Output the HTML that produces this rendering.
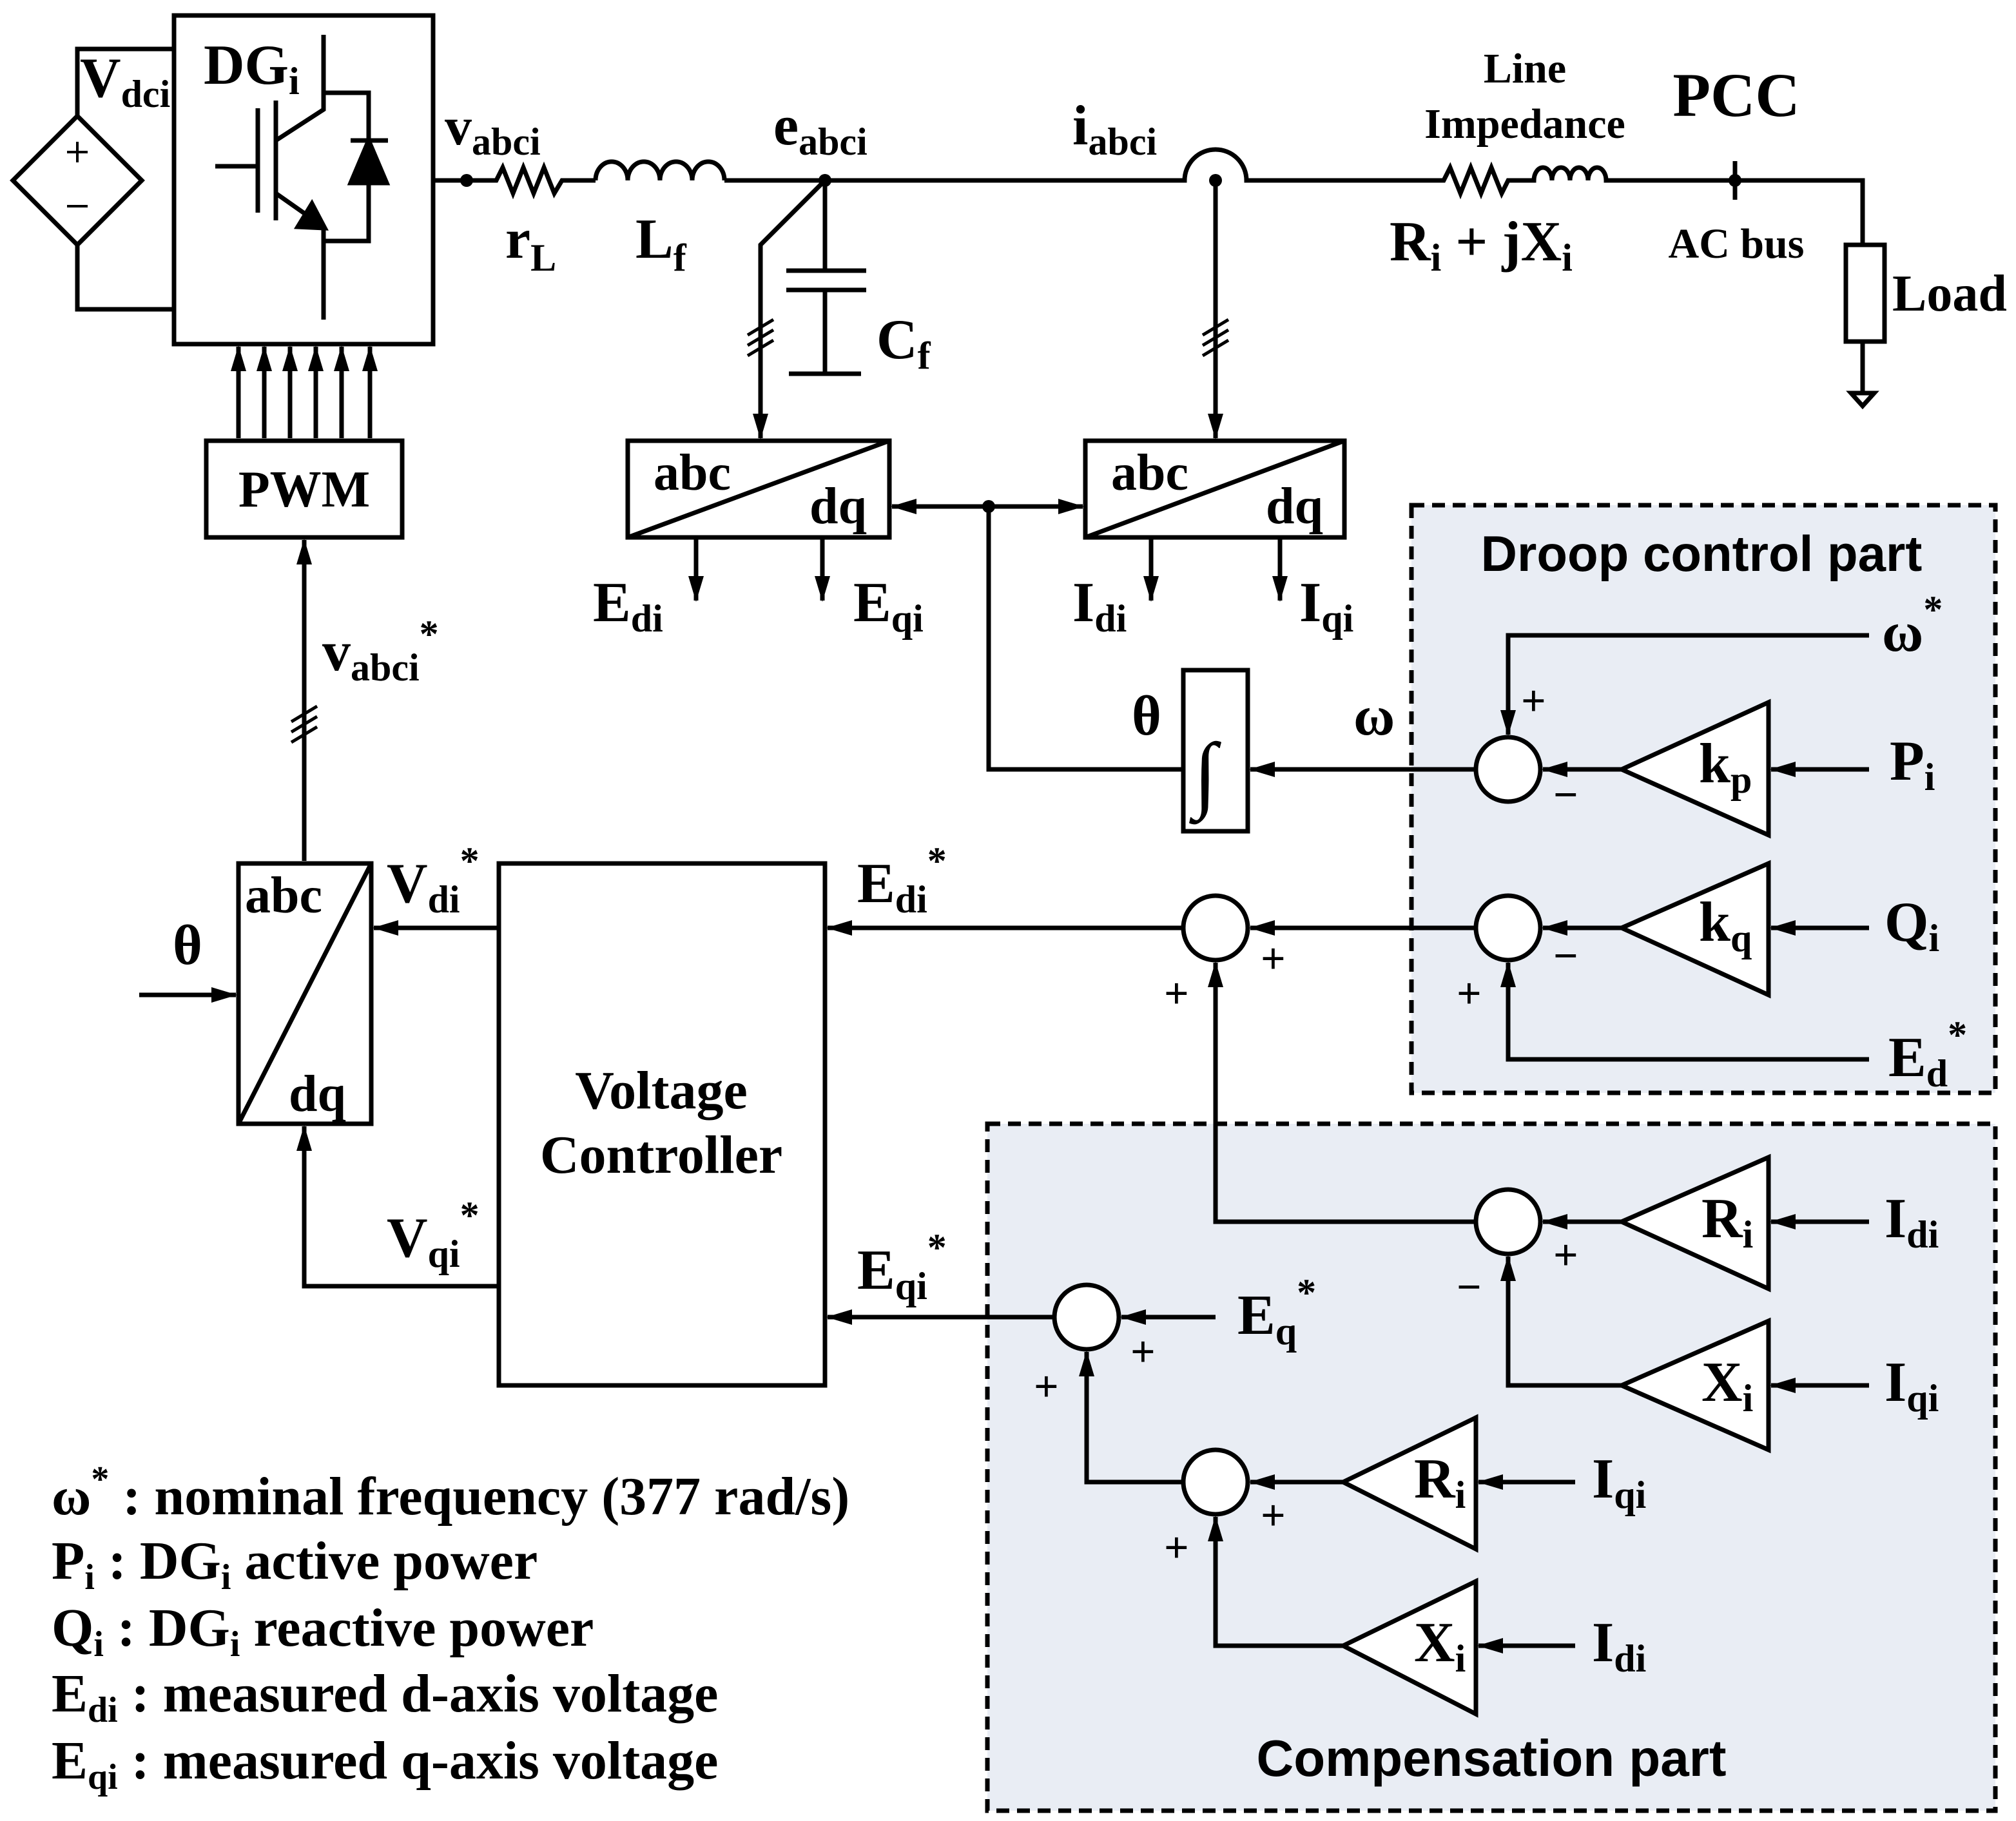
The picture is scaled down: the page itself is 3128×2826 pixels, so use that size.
<!DOCTYPE html>
<html><head><meta charset="utf-8"><style>
html,body{margin:0;padding:0;background:#fff}
svg{display:block}
text{font-family:"Liberation Serif",serif;font-weight:bold;fill:#000}
.s{font-family:"Liberation Sans",sans-serif}
</style></head><body>
<svg width="3128" height="2826" viewBox="0 0 1564 1413" xmlns="http://www.w3.org/2000/svg">
<defs>
<marker id="ar" viewBox="0 0 20 12" refX="19" refY="6" markerWidth="20" markerHeight="12" orient="auto-start-reverse" markerUnits="userSpaceOnUse"><path d="M0,0 L20,6 L0,12 z" fill="#000"/></marker>
</defs>
<g fill="none" stroke="#000" stroke-width="3.5">
<rect x="1095" y="392" width="453" height="456" fill="#e9edf4" stroke-dasharray="10,6"/>
<rect x="766" y="872" width="782" height="533" fill="#e9edf4" stroke-dasharray="10,6"/>
<!-- source -->
<path d="M60,90 L110,140 L60,190 L10,140 Z"/>
<path d="M60,90 V38 H135 M60,190 V240 H135"/>
<path d="M52,118 H68 M60,110 V126 M52,160 H68" stroke-width="2"/>
<!-- DG box -->
<rect x="135" y="12" width="201" height="255"/>
<path d="M167,129 H200 M200,84 V165 M214,78 V171 M214,109 L251,85 V27 M214,150 L251,176 V248 M251,72 H286 V187 H251"/>
<path d="M272,109 H301"/>
<path d="M286,109 L272,142 L300,142 Z" fill="#000"/>
<path d="M252,177 L231,176 L242,158 Z" fill="#000"/>
<!-- PWM arrows -->
<path d="M185,340 V269" marker-end="url(#ar)"/>
<path d="M205,340 V269" marker-end="url(#ar)"/>
<path d="M225,340 V269" marker-end="url(#ar)"/>
<path d="M245,340 V269" marker-end="url(#ar)"/>
<path d="M265,340 V269" marker-end="url(#ar)"/>
<path d="M287,340 V269" marker-end="url(#ar)"/>
<rect x="160" y="342" width="152" height="75"/>
<path d="M236,668 V419" marker-end="url(#ar)"/>
<path d="M226,560 L246,548 M226,568 L246,556 M226,576 L246,564" stroke-width="2.5"/>
<!-- power line -->
<path d="M337,140 H385 L390,130 L398,150 L406,130 L414,150 L422,130 L430,150 L436,140 H462"/>
<path d="M462,140 a12,14 0 0 1 25,0 a12,14 0 0 1 25,0 a12,14 0 0 1 25,0 a12,14 0 0 1 25,0 M562,140 H919 A24,24 0 0 1 967,140 H1120 L1125,130 L1133,150 L1141,130 L1149,150 L1157,130 L1165,150 L1170,140 H1190 a7,10 0 0 1 14,0 a7,10 0 0 1 14,0 a7,10 0 0 1 14,0 a7,10 0 0 1 14,0 H1445 V190"/>
<rect x="1432" y="190" width="30" height="75"/>
<path d="M1445,265 V305 M1436,305 H1454 L1445,315 Z"/>
<path d="M1346,125 V155"/>
<!-- capacitor -->
<path d="M640,140 V210 M610,210 H672 M610,225 H672 M640,225 V290 M612,290 H668"/>
<path d="M640,140 L590,190 V340" marker-end="url(#ar)"/>
<path d="M580,260 L600,248 M580,268 L600,256 M580,276 L600,264" stroke-width="2.5"/>
<path d="M943,140 V340" marker-end="url(#ar)"/>
<path d="M933,260 L953,248 M933,268 L953,256 M933,276 L953,264" stroke-width="2.5"/>
<!-- abc/dq boxes -->
<rect x="487" y="342" width="203" height="75"/><path d="M487,417 L690,342"/>
<rect x="842" y="342" width="201" height="75"/><path d="M842,417 L1043,342"/>
<path d="M540,417 V466" marker-end="url(#ar)"/>
<path d="M638,417 V466" marker-end="url(#ar)"/>
<path d="M893,417 V466" marker-end="url(#ar)"/>
<path d="M993,417 V466" marker-end="url(#ar)"/>
<path d="M767,393 H692" marker-end="url(#ar)"/>
<path d="M767,393 H840" marker-end="url(#ar)"/>
<path d="M767,393 V597 H918"/>
<rect x="918" y="520" width="50" height="125"/>
<path d="M1145,597 H970" marker-end="url(#ar)"/>
<!-- droop -->
<path d="M1450,493 H1170 V570" marker-end="url(#ar)"/>
<path d="M1258,597 L1372,545 V648 Z" fill="#fff"/>
<path d="M1258,720 L1372,670 V772 Z" fill="#fff"/>
<path d="M1258,597 H1197" marker-end="url(#ar)"/>
<path d="M1258,720 H1197" marker-end="url(#ar)"/>
<path d="M1450,597 H1374" marker-end="url(#ar)"/>
<path d="M1450,720 H1374" marker-end="url(#ar)"/>
<path d="M1450,822 H1170 V747" marker-end="url(#ar)"/>
<path d="M1145,720 H970" marker-end="url(#ar)"/>
<path d="M918,720 H642" marker-end="url(#ar)"/>
<circle cx="1170" cy="597" r="25" fill="#fff"/>
<circle cx="1170" cy="720" r="25" fill="#fff"/>
<circle cx="943" cy="720" r="25" fill="#fff"/>
<!-- voltage controller -->
<rect x="387" y="670" width="253" height="405"/>
<path d="M387,720 H290" marker-end="url(#ar)"/>
<rect x="185" y="670" width="103" height="202"/><path d="M185,872 L288,670"/>
<path d="M108,772 H183" marker-end="url(#ar)"/>
<path d="M387,998 H236 V874" marker-end="url(#ar)"/>
<!-- compensation -->
<path d="M1258,948 L1372,898 V1000 Z" fill="#fff"/>
<path d="M1258,1075 L1372,1025 V1125 Z" fill="#fff"/>
<path d="M1042,1150 L1145,1100 V1202 Z" fill="#fff"/>
<path d="M1042,1277 L1145,1227 V1330 Z" fill="#fff"/>
<path d="M1450,948 H1374" marker-end="url(#ar)"/>
<path d="M1450,1075 H1374" marker-end="url(#ar)"/>
<path d="M1222,1150 H1147" marker-end="url(#ar)"/>
<path d="M1222,1277 H1147" marker-end="url(#ar)"/>
<path d="M1258,948 H1197" marker-end="url(#ar)"/>
<path d="M1258,1075 H1170 V975" marker-end="url(#ar)"/>
<path d="M1145,948 H943 V747" marker-end="url(#ar)"/>
<path d="M943,1022 H870" marker-end="url(#ar)"/>
<path d="M818,1022 H642" marker-end="url(#ar)"/>
<path d="M1042,1150 H970" marker-end="url(#ar)"/>
<path d="M918,1150 H843 V1049" marker-end="url(#ar)"/>
<path d="M1042,1277 H943 V1177" marker-end="url(#ar)"/>
<circle cx="1170" cy="948" r="25" fill="#fff"/>
<circle cx="843" cy="1022" r="25" fill="#fff"/>
<circle cx="943" cy="1150" r="25" fill="#fff"/>
</g>
<g fill="#000">
<circle cx="362" cy="140" r="5"/><circle cx="640" cy="140" r="5"/><circle cx="943" cy="140" r="5"/><circle cx="767" cy="393" r="5"/><circle cx="1346" cy="140" r="5"/>
</g>
<g font-size="44">
<text x="62" y="75">V<tspan font-size="30" dy="8">dci</tspan></text>
<text x="158" y="65">DG<tspan font-size="30" dy="8">i</tspan></text>
<text x="345" y="112" font-size="42">v<tspan font-size="30" dy="8">abci</tspan></text>
<text x="392" y="200">r<tspan font-size="30" dy="10">L</tspan></text>
<text x="493" y="200">L<tspan font-size="30" dy="10">f</tspan></text>
<text x="600" y="112">e<tspan font-size="30" dy="8">abci</tspan></text>
<text x="832" y="112">i<tspan font-size="30" dy="8">abci</tspan></text>
<text x="1183" y="64" font-size="33" text-anchor="middle">Line</text>
<text x="1183" y="107" font-size="33" text-anchor="middle">Impedance</text>
<text x="1347" y="90" font-size="48" text-anchor="middle">PCC</text>
<text x="1347" y="200" font-size="33" text-anchor="middle">AC bus</text>
<text x="1078" y="202">R<tspan font-size="30" dy="8">i</tspan><tspan dy="-8"> + jX</tspan><tspan font-size="30" dy="8">i</tspan></text>
<text x="1468" y="241" font-size="40">Load</text>
<text x="680" y="278">C<tspan font-size="30" dy="8">f</tspan></text>
<text x="507" y="380" font-size="40">abc</text><text x="628" y="406" font-size="40">dq</text>
<text x="862" y="380" font-size="40">abc</text><text x="982" y="406" font-size="40">dq</text>
<text x="460" y="482">E<tspan font-size="30" dy="8">di</tspan></text>
<text x="662" y="482">E<tspan font-size="30" dy="8">qi</tspan></text>
<text x="832" y="482">I<tspan font-size="30" dy="8">di</tspan></text>
<text x="1008" y="482">I<tspan font-size="30" dy="8">qi</tspan></text>
<text x="236" y="393" font-size="40" text-anchor="middle">PWM</text>
<text x="250" y="520">v<tspan font-size="30" dy="8">abci</tspan><tspan font-size="30" dy="-26">*</tspan></text>
<text x="878" y="570">θ</text>
<text x="926" y="622" font-size="66" font-weight="normal">∫</text>
<text x="1050" y="570">ω</text>
<text x="1320" y="443" font-size="39" class="s" text-anchor="middle">Droop control part</text>
<text x="1460" y="505">ω<tspan font-size="30" dy="-22">*</tspan></text>
<text x="1180" y="555" font-size="34">+</text>
<text x="1205" y="628" font-size="34">−</text>
<text x="1318" y="607">k<tspan font-size="30" dy="8">p</tspan></text>
<text x="1466" y="605">P<tspan font-size="30" dy="8">i</tspan></text>
<text x="1318" y="730">k<tspan font-size="30" dy="8">q</tspan></text>
<text x="1462" y="730">Q<tspan font-size="30" dy="8">i</tspan></text>
<text x="1205" y="753" font-size="34">−</text>
<text x="1130" y="782" font-size="34">+</text>
<text x="1465" y="835">E<tspan font-size="30" dy="8">d</tspan><tspan font-size="30" dy="-30">*</tspan></text>
<text x="978" y="755" font-size="34">+</text>
<text x="903" y="782" font-size="34">+</text>
<text x="665" y="700">E<tspan font-size="30" dy="8">di</tspan><tspan font-size="30" dy="-30">*</tspan></text>
<text x="300" y="700">V<tspan font-size="30" dy="8">di</tspan><tspan font-size="30" dy="-30">*</tspan></text>
<text x="190" y="708" font-size="40">abc</text>
<text x="224" y="862" font-size="40">dq</text>
<text x="134" y="748">θ</text>
<text x="513" y="860" font-size="42" text-anchor="middle">Voltage</text>
<text x="513" y="910" font-size="42" text-anchor="middle">Controller</text>
<text x="300" y="975">V<tspan font-size="30" dy="8">qi</tspan><tspan font-size="30" dy="-30">*</tspan></text>
<text x="665" y="1000">E<tspan font-size="30" dy="8">qi</tspan><tspan font-size="30" dy="-30">*</tspan></text>
<text x="1320" y="960">R<tspan font-size="30" dy="8">i</tspan></text>
<text x="1462" y="960">I<tspan font-size="30" dy="8">di</tspan></text>
<text x="1205" y="985" font-size="34">+</text>
<text x="1130" y="1010" font-size="34">−</text>
<text x="1320" y="1087">X<tspan font-size="30" dy="8">i</tspan></text>
<text x="1462" y="1087">I<tspan font-size="30" dy="8">qi</tspan></text>
<text x="960" y="1035">E<tspan font-size="30" dy="8">q</tspan><tspan font-size="30" dy="-30">*</tspan></text>
<text x="877" y="1060" font-size="34">+</text>
<text x="802" y="1087" font-size="34">+</text>
<text x="1097" y="1162">R<tspan font-size="30" dy="8">i</tspan></text>
<text x="1235" y="1162">I<tspan font-size="30" dy="8">qi</tspan></text>
<text x="978" y="1187" font-size="34">+</text>
<text x="903" y="1212" font-size="34">+</text>
<text x="1097" y="1289">X<tspan font-size="30" dy="8">i</tspan></text>
<text x="1235" y="1289">I<tspan font-size="30" dy="8">di</tspan></text>
<text x="1157" y="1378" font-size="40" class="s" text-anchor="middle">Compensation part</text>
</g>
<g font-size="42">
<text x="40" y="1175">ω<tspan font-size="28" dy="-18">*</tspan><tspan dy="18"> : nominal frequency (377 rad/s)</tspan></text>
<text x="40" y="1225">P<tspan font-size="28" dy="8">i</tspan><tspan dy="-8"> : DG</tspan><tspan font-size="28" dy="8">i</tspan><tspan dy="-8"> active power</tspan></text>
<text x="40" y="1277">Q<tspan font-size="28" dy="8">i</tspan><tspan dy="-8"> : DG</tspan><tspan font-size="28" dy="8">i</tspan><tspan dy="-8"> reactive power</tspan></text>
<text x="40" y="1328">E<tspan font-size="28" dy="8">di</tspan><tspan dy="-8"> : measured d-axis voltage</tspan></text>
<text x="40" y="1380">E<tspan font-size="28" dy="8">qi</tspan><tspan dy="-8"> : measured q-axis voltage</tspan></text>
</g>
</svg>
</body></html>
